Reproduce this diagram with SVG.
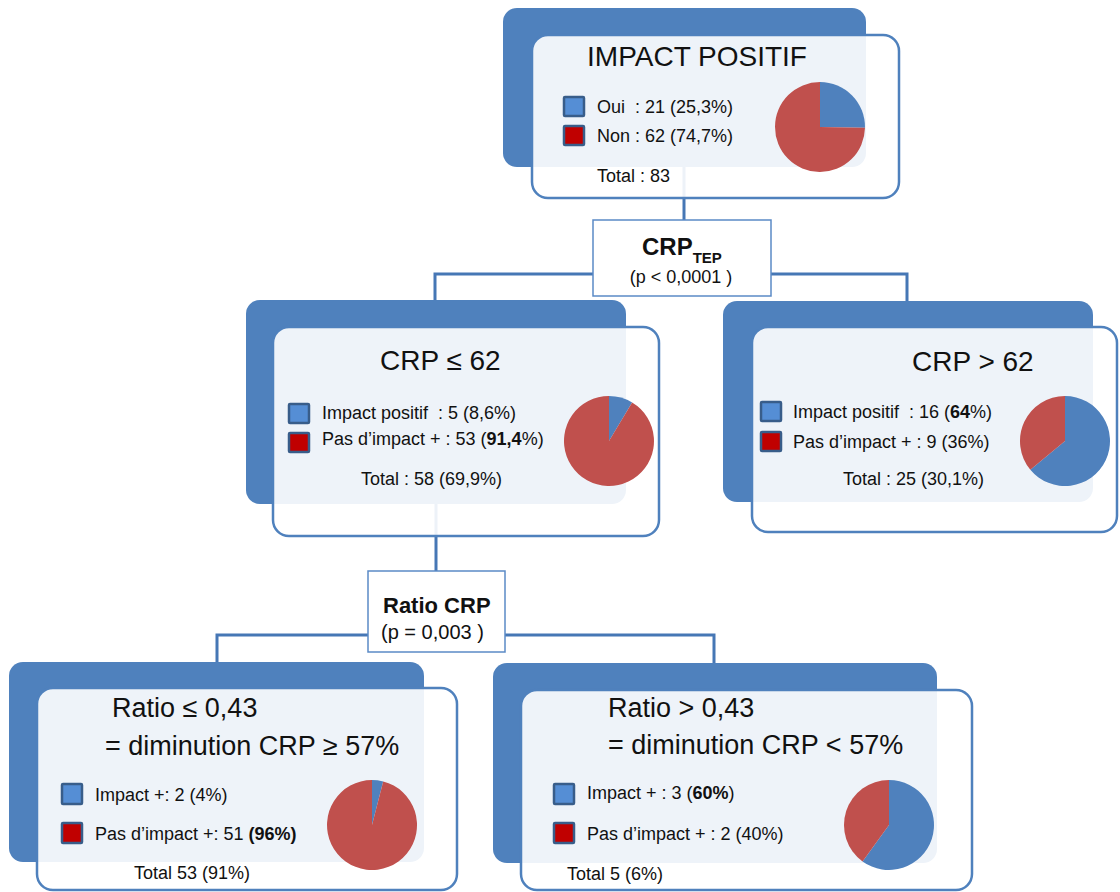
<svg xmlns="http://www.w3.org/2000/svg" width="1120" height="892" viewBox="0 0 1120 892">
<style>
.back{fill:#4F81BD;}
.front{fill:#FFFFFF;fill-opacity:0.9;stroke:#4F81BD;stroke-width:2.5;}
.conn{fill:none;stroke:#4677B5;stroke-width:3;}
.split{fill:#FFFFFF;stroke:#5B8AC6;stroke-width:1.5;}
.sqb{fill:#558ED5;stroke:#385D8A;stroke-width:2.5;}
.sqr{fill:#C00000;stroke:#385D8A;stroke-width:2.5;}
.pb{fill:#4F81BD;}
.pr{fill:#C0504D;}
text{font-family:"Liberation Sans",Arial,sans-serif;fill:#111111;white-space:pre;}
.title{font-size:28px;}
.title2{font-size:27px;}
.leg{font-size:18px;}
.b{font-weight:bold;}
</style>
<rect width="1120" height="892" fill="#FFFFFF"/>
<g id="connectors">
<path class="conn" d="M684,167 V220"/>
<path class="conn" d="M593,274 H435 V300"/>
<path class="conn" d="M771,274 H907 V301"/>
<path class="conn" d="M436,504 V571"/>
<path class="conn" d="M368,635 H217 V662"/>
<path class="conn" d="M505,635 H714 V663"/>
</g>
<g id="node-impact-positif">
<rect class="back" x="503" y="8" width="363" height="159" rx="14"/>
<rect class="front" x="532" y="35" width="367" height="163" rx="16"/>
<text class="title" x="697" y="66" text-anchor="middle">IMPACT POSITIF</text>
<rect class="sqb" x="564" y="97" width="20" height="19" rx="1"/>
<rect class="sqr" x="564" y="126" width="20" height="19" rx="1"/>
<text class="leg" x="597" y="113">Oui  : 21 (25,3%)</text>
<text class="leg" x="597" y="142">Non : 62 (74,7%)</text>
<text class="leg" x="597" y="182">Total : 83</text>
<path class="pb" d="M820,127 L820,82 A45,45 0 0,1 865,127.85 Z"/>
<path class="pr" d="M820,127 L865,127.85 A45,45 0 1,1 820,82 Z"/>
</g>
<g id="node-crp-tep">
<rect class="split" x="593" y="220" width="178" height="76"/>
<text x="642" y="255" class="b" style="font-size:24px">CRP<tspan dy="8" style="font-size:15px">TEP</tspan></text>
<text class="leg" x="681" y="283" text-anchor="middle">(p &lt; 0,0001 )</text>
</g>
<g id="node-crp-le-62">
<rect class="back" x="246" y="300" width="380" height="204" rx="14"/>
<rect class="front" x="273" y="327" width="386" height="209" rx="16"/>
<text class="title" x="380" y="370">CRP ≤ 62</text>
<rect class="sqb" x="289" y="404" width="20" height="19" rx="1"/>
<rect class="sqr" x="289" y="433" width="20" height="19" rx="1"/>
<text class="leg" x="322" y="419">Impact positif  : 5 (8,6%)</text>
<text class="leg" x="322" y="445">Pas d’impact + : 53 (<tspan class="b">91,4</tspan>%)</text>
<text class="leg" x="361" y="485">Total : 58 (69,9%)</text>
<path class="pb" d="M609,441 L609,396 A45,45 0 0,1 632.14,402.41 Z"/>
<path class="pr" d="M609,441 L632.14,402.41 A45,45 0 1,1 609,396 Z"/>
</g>
<g id="node-crp-gt-62">
<rect class="back" x="723" y="301" width="370" height="201" rx="14"/>
<rect class="front" x="752" y="327" width="365" height="205" rx="16"/>
<text class="title" x="912" y="371">CRP &gt; 62</text>
<rect class="sqb" x="761" y="402" width="20" height="19" rx="1"/>
<rect class="sqr" x="761" y="432" width="20" height="19" rx="1"/>
<text class="leg" x="793" y="418">Impact positif  : 16 (<tspan class="b">64</tspan>%)</text>
<text class="leg" x="793" y="448">Pas d’impact + : 9 (36%)</text>
<text class="leg" x="843" y="485">Total : 25 (30,1%)</text>
<path class="pb" d="M1065,441 L1065,396 A45,45 0 1,1 1030.33,469.68 Z"/>
<path class="pr" d="M1065,441 L1030.33,469.68 A45,45 0 0,1 1065,396 Z"/>
</g>
<g id="node-ratio-crp">
<rect class="split" x="368" y="571" width="137" height="81"/>
<text x="383" y="613" class="b" style="font-size:22px">Ratio CRP</text>
<text x="381" y="639" style="font-size:20px">(p = 0,003 )</text>
</g>
<g id="node-ratio-le">
<rect class="back" x="9" y="662" width="415" height="200" rx="14"/>
<rect class="front" x="37" y="688" width="420" height="202" rx="16"/>
<text class="title2" x="112" y="717">Ratio ≤ 0,43</text>
<text class="title2" x="105" y="755">= diminution CRP ≥ 57%</text>
<rect class="sqb" x="62" y="784" width="20" height="20" rx="1"/>
<rect class="sqr" x="62" y="823" width="20" height="20" rx="1"/>
<text class="leg" x="95" y="801">Impact +: 2 (4%)</text>
<text class="leg" x="95" y="840">Pas d’impact +: 51 <tspan class="b">(96%)</tspan></text>
<text class="leg" x="134" y="879">Total 53 (91%)</text>
<path class="pb" d="M372,825 L372,780 A45,45 0 0,1 383.19,781.41 Z"/>
<path class="pr" d="M372,825 L383.19,781.41 A45,45 0 1,1 372,780 Z"/>
</g>
<g id="node-ratio-gt">
<rect class="back" x="493" y="663" width="444" height="200" rx="14"/>
<rect class="front" x="521" y="690" width="451" height="200" rx="16"/>
<text class="title2" x="608" y="717">Ratio &gt; 0,43</text>
<text class="title2" x="608" y="754">= diminution CRP &lt; 57%</text>
<rect class="sqb" x="554" y="784" width="20" height="20" rx="1"/>
<rect class="sqr" x="554" y="823" width="20" height="20" rx="1"/>
<text class="leg" x="587" y="799">Impact + : 3 (<tspan class="b">60%</tspan>)</text>
<text class="leg" x="587" y="840">Pas d’impact + : 2 (40%)</text>
<text class="leg" x="567" y="880">Total 5 (6%)</text>
<path class="pb" d="M889,825 L889,780 A45,45 0 1,1 862.55,861.41 Z"/>
<path class="pr" d="M889,825 L862.55,861.41 A45,45 0 0,1 889,780 Z"/>
</g>
</svg>
